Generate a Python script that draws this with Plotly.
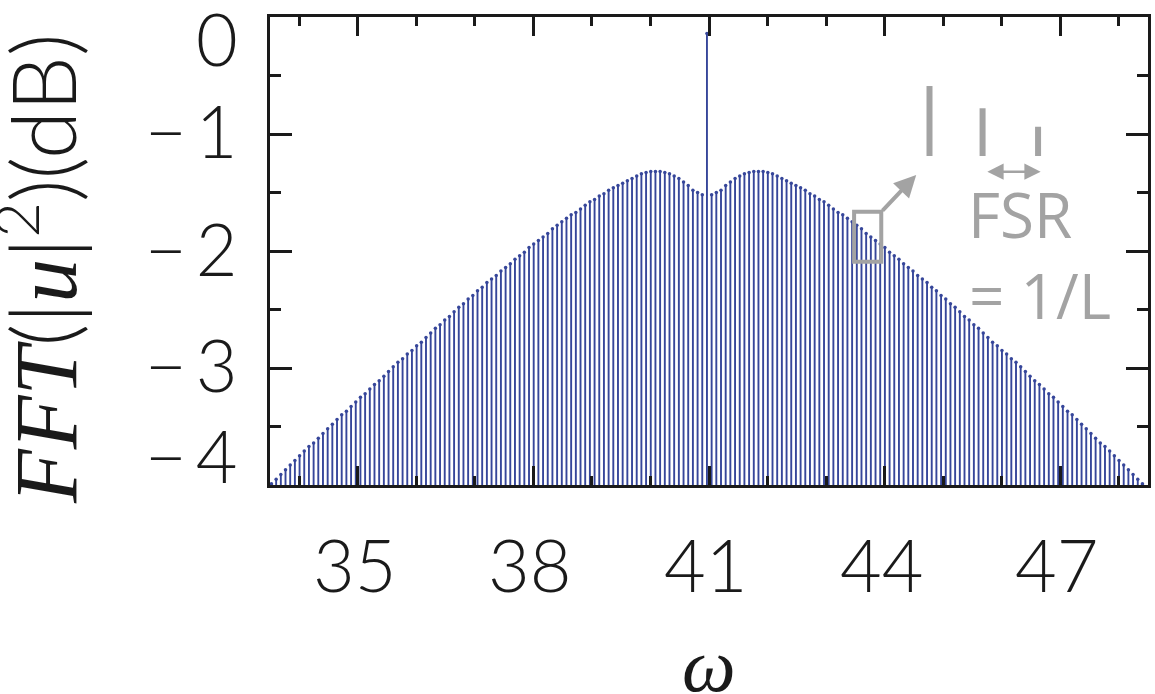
import plotly.graph_objects as go

# --- data ---
# comb of cavity modes: index relative to the pumped mode, spacing = FSR
mode_index = list(range(-93, 94))
comb_center = 40.965
fsr = 0.08
floor_db = -4.0

# envelope height of each comb line (left wing, pump spike, right wing)
left_db = [
    -3.99, -3.95, -3.91, -3.87, -3.83, -3.79, -3.75, -3.71, -3.67, -3.64,
    -3.60, -3.56, -3.52, -3.48, -3.44, -3.40, -3.37, -3.33, -3.29, -3.25,
    -3.22, -3.18, -3.14, -3.11, -3.07, -3.03, -2.99, -2.95, -2.92, -2.88,
    -2.85, -2.81, -2.78, -2.74, -2.70, -2.66, -2.63, -2.59, -2.56, -2.52,
    -2.48, -2.45, -2.41, -2.38, -2.34, -2.31, -2.27, -2.24, -2.21, -2.17,
    -2.14, -2.11, -2.07, -2.04, -2.01, -1.97, -1.94, -1.91, -1.88, -1.85,
    -1.81, -1.78, -1.75, -1.72, -1.69, -1.67, -1.64, -1.61, -1.58, -1.56,
    -1.53, -1.51, -1.48, -1.46, -1.44, -1.42, -1.40, -1.38, -1.36, -1.34,
    -1.33, -1.32, -1.32, -1.32, -1.33, -1.34, -1.36, -1.38, -1.41, -1.44,
    -1.48, -1.50, -1.52,
]
pump_db = [-0.14]
right_db = [
    -1.52, -1.50, -1.48, -1.44, -1.41, -1.38, -1.36, -1.34, -1.33, -1.32,
    -1.32, -1.32, -1.33, -1.34, -1.36, -1.38, -1.40, -1.42, -1.44, -1.46,
    -1.48, -1.51, -1.53, -1.56, -1.58, -1.61, -1.64, -1.67, -1.69, -1.72,
    -1.75, -1.78, -1.81, -1.85, -1.88, -1.91, -1.94, -1.97, -2.01, -2.04,
    -2.07, -2.11, -2.14, -2.17, -2.21, -2.24, -2.27, -2.31, -2.34, -2.38,
    -2.41, -2.45, -2.48, -2.52, -2.56, -2.59, -2.63, -2.66, -2.70, -2.74,
    -2.78, -2.81, -2.85, -2.88, -2.92, -2.95, -2.99, -3.03, -3.07, -3.11,
    -3.14, -3.18, -3.22, -3.25, -3.29, -3.33, -3.37, -3.40, -3.44, -3.48,
    -3.52, -3.56, -3.60, -3.64, -3.67, -3.71, -3.75, -3.79, -3.83, -3.87,
    -3.91, -3.95, -3.99,
]
comb_db = left_db + pump_db + right_db

x_ticks = [35, 38, 41, 44, 47]
x_minor = [34, 36, 37, 39, 40, 42, 43, 45, 46, 48]
y_ticks = [0, -1, -2, -3, -4]
y_minor = [-0.5, -1.5, -2.5, -3.5]
y_ticklabels = ["0", "\u2212\u20091", "\u2212\u20092", "\u2212\u20093", "\u2212\u20094"]

omega = [comb_center + fsr * k for k in mode_index]

# --- figure ---
STEM = "#36469a"
GRAY = "#a3a3a3"
INK = "#1a1a1a"
NUM_FONT = dict(family="Lato Light, Lato, sans-serif", size=72, color=INK)

stem_x, stem_y = [], []
for w, h in zip(omega, comb_db):
    stem_x += [w, w, None]
    stem_y += [floor_db, h, None]

fig = go.Figure()
fig.add_trace(go.Scatter(x=stem_x, y=stem_y, mode="lines",
                         line=dict(color=STEM, width=1.9),
                         hoverinfo="skip", showlegend=False))
fig.add_trace(go.Scatter(x=omega, y=comb_db, mode="markers",
                         marker=dict(color=STEM, size=3.5),
                         showlegend=False))

annotations = []
# y tick labels (end labels are pulled inward as in the original)
y_shift = {0: -21, -1: 4, -2: 3, -3: 4, -4: 30}
for v, t in zip(y_ticks, y_ticklabels):
    annotations.append(dict(x=0, xref="paper", y=v, yref="y", text=t,
                            xanchor="right", yanchor="middle", xshift=-30,
                            yshift=y_shift[v], showarrow=False, font=NUM_FONT))
# x tick labels
for v in x_ticks:
    annotations.append(dict(x=v, xref="x", y=0, yref="paper", text=str(v),
                            xanchor="center", yanchor="middle", yshift=-79,
                            xshift=-3, showarrow=False, font=NUM_FONT))
# axis titles
annotations.append(dict(
    x=0, xref="paper", y=0.5, yref="paper", xanchor="center", yanchor="middle",
    xshift=-234, yshift=-18, textangle=-90, showarrow=False,
    text='<span style="font-family:Liberation Serif"><i>FFT</i></span>(|'
         '<span style="font-family:Liberation Serif"><i>u</i></span>|<sup>2</sup>)(dB)',
    font=dict(family="Lato Light, Lato, sans-serif", size=88, color=INK)))
annotations.append(dict(
    x=0.5, xref="paper", y=0, yref="paper", xanchor="center", yanchor="middle",
    yshift=-180, showarrow=False, text="<i>\u03c9</i>",
    font=dict(family="Liberation Serif", size=76, color=INK)))

# FSR inset
annotations.append(dict(x=44.54, y=-1.35, ax=43.94, ay=-1.667, xref="x", yref="y",
                        axref="x", ayref="y", text="", showarrow=True,
                        arrowhead=2, arrowsize=1.1, arrowwidth=4, arrowcolor=GRAY))
annotations.append(dict(x=46.666, y=-1.322, ax=45.73, ay=-1.322, xref="x", yref="y",
                        axref="x", ayref="y", text="", showarrow=True,
                        arrowhead=2, arrowside="end+start", arrowsize=1.3,
                        arrowwidth=2.5, arrowcolor=GRAY))
annotations.append(dict(x=46.32, y=-1.684, xref="x", yref="y", text="FSR",
                        showarrow=False, xanchor="center", yanchor="middle",
                        font=dict(family="Open Sans", size=62, color=GRAY)))
annotations.append(dict(x=46.66, y=-2.376, xref="x", yref="y", text="= 1/L",
                        showarrow=False, xanchor="center", yanchor="middle",
                        font=dict(family="Open Sans", size=62, color=GRAY)))

shapes = [
    dict(type="rect", x0=43.479, x1=43.943, y0=-2.091, y1=-1.664, xref="x", yref="y",
         line=dict(color=GRAY, width=4)),
    dict(type="line", x0=44.767, x1=44.767, y0=-1.188, y1=-0.590, xref="x", yref="y",
         line=dict(color=GRAY, width=6)),
    dict(type="line", x0=45.674, x1=45.674, y0=-1.188, y1=-0.780, xref="x", yref="y",
         line=dict(color=GRAY, width=6)),
    dict(type="line", x0=46.622, x1=46.622, y0=-1.188, y1=-0.938, xref="x", yref="y",
         line=dict(color=GRAY, width=6)),
]

fig.update_layout(
    width=1155, height=694,
    margin=dict(l=270, r=4, t=17, b=209),
    paper_bgcolor="white", plot_bgcolor="white",
    showlegend=False,
    annotations=annotations,
    shapes=shapes,
    xaxis=dict(range=[33.5, 48.5], tickmode="array", tickvals=x_ticks,
               showticklabels=False, ticks="inside", ticklen=19, tickwidth=3,
               tickcolor=INK, showline=True, linewidth=3, linecolor=INK,
               mirror="allticks", showgrid=False, zeroline=False,
               minor=dict(tickmode="array", tickvals=x_minor, ticks="inside",
                          ticklen=9, tickwidth=3, tickcolor=INK, showgrid=False)),
    yaxis=dict(range=[-4, 0], tickmode="array", tickvals=y_ticks,
               showticklabels=False, ticks="inside", ticklen=22, tickwidth=3,
               tickcolor=INK, showline=True, linewidth=3, linecolor=INK,
               mirror="allticks", showgrid=False, zeroline=False,
               minor=dict(tickmode="array", tickvals=y_minor,
                          ticks="inside", ticklen=11, tickwidth=3,
                          tickcolor=INK, showgrid=False)),
)

# page body has a default 8px margin; drop it so the figure sits at the corner
fig.write_html("out.html", config={"displayModeBar": False},
               post_script="document.body.style.margin='0';document.body.style.overflow='hidden';")
